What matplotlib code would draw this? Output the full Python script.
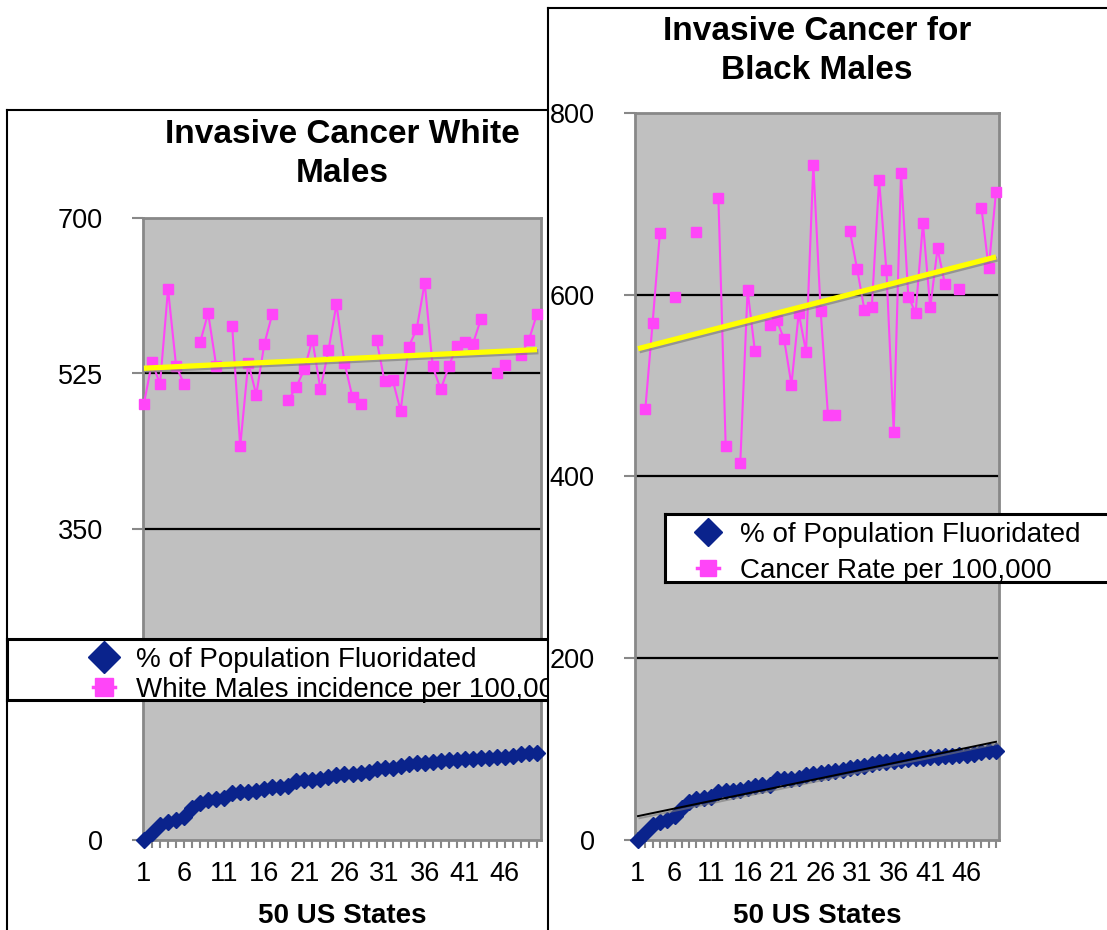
import numpy as np
import matplotlib.pyplot as plt
import matplotlib.patheffects as pe

plt.rcParams['font.family'] = ['Liberation Sans', 'DejaVu Sans']

nan = np.nan
states = np.arange(1, 51)

# share of population on fluoridated water, states sorted ascending
fluoridated = [0, 7.5, 16.9, 19.9, 22.5, 26.3, 35.6, 41.3, 45.0, 45.8,
               46.9, 52.5, 54.4, 54.4, 55.5, 57.0, 59.3, 60.0, 60.8, 66.8,
               67.5, 67.5, 68.3, 71.3, 73.1, 73.9, 74.3, 75.8, 76.9, 79.5,
               80.6, 81.4, 83.3, 85.5, 86.3, 87.0, 88.2, 89.3, 90.0, 90.0,
               90.8, 90.8, 91.9, 92.6, 93.8, 93.8, 94.5, 96.8, 97.5, 98.3]

# invasive cancer incidence per 100,000 (nan = no data for that state)
white_males = [491, 538, 513, 620, 534, 513, nan, 560, 593, 534,
               nan, 578, 443, 537, 501, 558, 592, nan, 495, 510,
               530, 563, 507, 551, 603, 537, 498, 491, nan, 563,
               516, 518, 483, 555, 575, 627, 533, 507, 533, 556,
               560, 558, 586, nan, 525, 535, nan, 546, 563, 592]

black_males = [nan, 474, 569, 668, nan, 598, nan, nan, 669, nan,
               nan, 707, 434, nan, 415, 605, 538, nan, 567, 572,
               551, 501, 580, 537, 743, 582, 468, 468, nan, 670,
               628, 583, 586, 726, 627, 449, 734, 598, 580, 679,
               586, 651, 612, nan, 606, nan, nan, 696, 629, 713]

white_ticks = [0, 175, 350, 525, 700]
black_ticks = [0, 200, 400, 600, 800]

NAVY = '#0a238c'
PINK = '#ff45f8'
YELLOW = '#ffff00'
PLOT_BG = '#c0c0c0'
AXIS_GRAY = '#888888'

W, H = 1107, 930
fig = plt.figure(figsize=(W / 100, H / 100), dpi=100)


def box(x0, y0, x1, y1):
    # pixel box (top-left origin) -> figure fraction rect
    return [x0 / W, 1 - y1 / H, (x1 - x0) / W, (y1 - y0) / H]


def frame_axes(rect, z, lw=1.5):
    a = fig.add_axes(box(*rect), zorder=z)
    a.set_facecolor('white')
    a.set_xticks([])
    a.set_yticks([])
    a.set_xlim(rect[0], rect[2])
    a.set_ylim(rect[3], rect[1])
    for s in a.spines.values():
        s.set_color('black')
        s.set_linewidth(lw)
    return a


def trend(y):
    y = np.asarray(y, float)
    ok = ~np.isnan(y)
    k, b = np.polyfit(states[ok], y[ok], 1)
    return k * states + b


def plot_panel(rect, z, ticks, rate, xlim, fluor_trend):
    ax = fig.add_axes(box(*rect), zorder=z)
    ax.set_facecolor(PLOT_BG)
    for s in ax.spines.values():
        s.set_color(AXIS_GRAY)
        s.set_linewidth(2)
    ax.set_ylim(ticks[0], ticks[-1])
    ax.set_xlim(*xlim)
    ax.set_yticks(ticks)
    ax.set_yticklabels([str(t) for t in ticks])
    ax.set_xticks(states)
    ax.set_xticklabels([str(s) if (s - 1) % 5 == 0 else '' for s in states])
    ax.tick_params(axis='both', direction='out', color=AXIS_GRAY, width=1.5,
                   labelsize=19.5, labelcolor='black')
    ax.tick_params(axis='y', length=8, pad=21)
    ax.tick_params(axis='x', length=6, pad=9)
    for v in ticks[1:-1]:
        ax.axhline(v, color='black', lw=1.6, zorder=1)

    ax.plot(states, fluoridated, ls='none', marker='D', ms=8,
            color=NAVY, mec=NAVY, zorder=3, clip_on=False)
    ax.plot(states, rate, color=PINK, lw=1.5, marker='s', ms=7.5,
            mec=PINK, zorder=4, clip_on=False)
    shadow = [pe.SimpleLineShadow(offset=(1, -1.5), shadow_color='#777777',
                                  alpha=0.6), pe.Normal()]
    ax.plot(states, trend(rate), color=YELLOW, lw=3.8, zorder=5,
            solid_capstyle='butt', path_effects=shadow)
    if fluor_trend:
        ax.plot(states, trend(fluoridated), color='black', lw=1.4, zorder=5,
                path_effects=shadow)
    return ax


def legend_box(rect, z, items, lw):
    lg = frame_axes(rect, z, lw)
    for (x, y, handle, label) in items:
        mk, color, size, with_line = handle
        if with_line:
            lg.plot([x - 11, x + 11], [y, y], color=color, lw=2.5)
        lg.plot([x], [y], marker=mk, ms=size, color=color, mec=color)
        lg.text(x + 32, y + 10, label, fontsize=20, va='baseline', ha='left')
    return lg


def title_text(area, x, lines, baselines):
    for line, yb in zip(lines, baselines):
        area.text(x, yb, line, fontsize=24, fontweight='bold',
                  ha='center', va='baseline')


# white males chart
left_area = frame_axes((7, 110, 640, 950), 0)
title_text(left_area, 342, ['Invasive Cancer White', 'Males'], [143, 182])
left_area.text(342, 923, '50 US States', fontsize=20, fontweight='bold',
               ha='center', va='baseline')
plot_panel((143, 218, 541, 840), 1, white_ticks, white_males,
           (0.88, 50.5), False)
legend_box((7, 639, 640, 700), 2,
           [(104, 657, ('D', NAVY, 16, False), '% of Population Fluoridated'),
            (104, 687, ('s', PINK, 12.5, True), 'White Males incidence per 100,000')],
           2.2)

# black males chart
right_area = frame_axes((548, 8, 1130, 950), 3)
title_text(right_area, 817, ['Invasive Cancer for', 'Black Males'], [40, 79])
right_area.text(817, 923, '50 US States', fontsize=20, fontweight='bold',
                ha='center', va='baseline')
plot_panel((635, 113, 999, 840), 4, black_ticks, black_males,
           (0.59, 50.41), True)
legend_box((665, 514, 1130, 582), 5,
           [(708, 532, ('D', NAVY, 14.5, False), '% of Population Fluoridated'),
            (708, 568, ('s', PINK, 12, True), 'Cancer Rate per 100,000')],
           2.2)

fig.savefig('out.png', dpi=100)
